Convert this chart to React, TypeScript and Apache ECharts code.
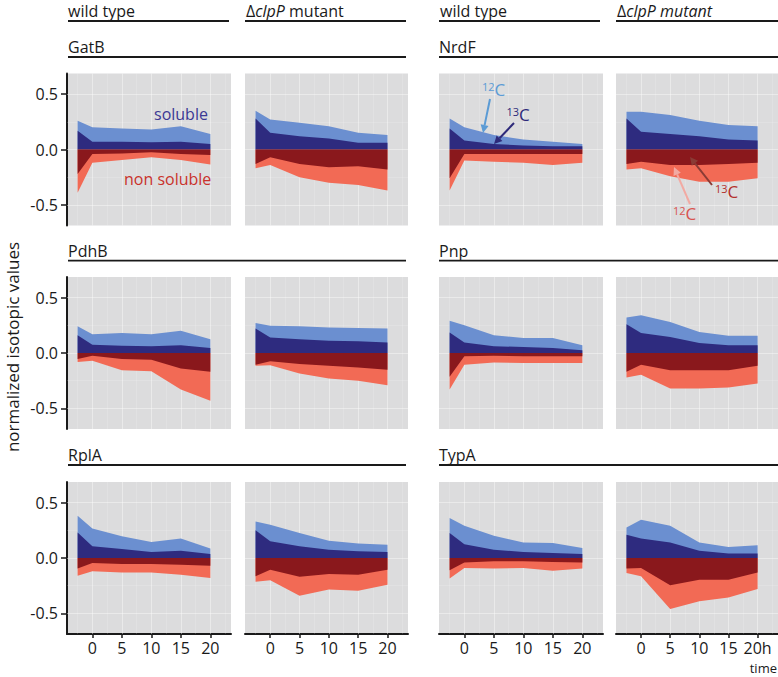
import React, { useEffect, useRef } from "react";
import * as echarts from "echarts";

// ---------- data ----------
const times = [-2.5, 0, 5, 10, 15, 20];
const xTicks = [0, 5, 10, 15, 20];
const yTicks = [-0.5, 0, 0.5];
const xMinor = [-2.5, 2.5, 7.5, 12.5, 17.5, 22.5];
const yMinor = [-0.25, 0.25];
const strainLabels = ["wild type", "ΔclpP mutant"];
const proteins = ["GatB", "NrdF", "PdhB", "Pnp", "RplA", "TypA"];

// boundaries: soluble total (12C+13C), soluble 13C, non-soluble 13C, non-soluble total
const gatbWtSolTotal = [0.26, 0.2, 0.19, 0.18, 0.21, 0.14];
const gatbWtSol13 = [0.17, 0.07, 0.07, 0.065, 0.07, 0.05];
const gatbWtIns13 = [-0.22, -0.04, -0.035, -0.025, -0.04, -0.05];
const gatbWtInsTotal = [-0.39, -0.12, -0.095, -0.07, -0.095, -0.135];

const gatbMuSolTotal = [0.35, 0.27, 0.24, 0.21, 0.15, 0.13];
const gatbMuSol13 = [0.28, 0.15, 0.12, 0.1, 0.06, 0.06];
const gatbMuIns13 = [-0.13, -0.07, -0.13, -0.16, -0.15, -0.18];
const gatbMuInsTotal = [-0.17, -0.14, -0.25, -0.3, -0.32, -0.37];

const nrdfWtSolTotal = [0.28, 0.2, 0.13, 0.09, 0.07, 0.05];
const nrdfWtSol13 = [0.19, 0.08, 0.05, 0.035, 0.03, 0.03];
const nrdfWtIns13 = [-0.26, -0.04, -0.04, -0.04, -0.04, -0.04];
const nrdfWtInsTotal = [-0.37, -0.1, -0.11, -0.12, -0.14, -0.12];

const nrdfMuSolTotal = [0.34, 0.34, 0.31, 0.26, 0.22, 0.21];
const nrdfMuSol13 = [0.28, 0.16, 0.14, 0.12, 0.09, 0.08];
const nrdfMuIns13 = [-0.13, -0.11, -0.14, -0.14, -0.13, -0.12];
const nrdfMuInsTotal = [-0.18, -0.17, -0.24, -0.29, -0.29, -0.26];

const pdhbWtSolTotal = [0.24, 0.17, 0.18, 0.17, 0.2, 0.125];
const pdhbWtSol13 = [0.16, 0.075, 0.065, 0.06, 0.07, 0.045];
const pdhbWtIns13 = [-0.055, -0.025, -0.055, -0.06, -0.14, -0.17];
const pdhbWtInsTotal = [-0.08, -0.07, -0.155, -0.165, -0.33, -0.43];

const pdhbMuSolTotal = [0.27, 0.245, 0.24, 0.23, 0.225, 0.22];
const pdhbMuSol13 = [0.22, 0.14, 0.125, 0.11, 0.105, 0.095];
const pdhbMuIns13 = [-0.105, -0.075, -0.1, -0.115, -0.13, -0.15];
const pdhbMuInsTotal = [-0.115, -0.11, -0.185, -0.23, -0.25, -0.29];

const pnpWtSolTotal = [0.29, 0.25, 0.16, 0.135, 0.135, 0.07];
const pnpWtSol13 = [0.185, 0.095, 0.06, 0.055, 0.045, 0.025];
const pnpWtIns13 = [-0.215, -0.03, -0.025, -0.03, -0.03, -0.03];
const pnpWtInsTotal = [-0.33, -0.105, -0.085, -0.09, -0.09, -0.09];

const pnpMuSolTotal = [0.32, 0.34, 0.28, 0.19, 0.155, 0.155];
const pnpMuSol13 = [0.26, 0.18, 0.145, 0.09, 0.07, 0.07];
const pnpMuIns13 = [-0.17, -0.105, -0.155, -0.155, -0.155, -0.115];
const pnpMuInsTotal = [-0.22, -0.195, -0.32, -0.32, -0.31, -0.275];

const rplaWtSolTotal = [0.38, 0.265, 0.195, 0.145, 0.175, 0.085];
const rplaWtSol13 = [0.23, 0.105, 0.08, 0.055, 0.065, 0.035];
const rplaWtIns13 = [-0.095, -0.045, -0.055, -0.055, -0.06, -0.07];
const rplaWtInsTotal = [-0.16, -0.12, -0.13, -0.13, -0.15, -0.18];

const rplaMuSolTotal = [0.33, 0.3, 0.225, 0.155, 0.13, 0.12];
const rplaMuSol13 = [0.25, 0.15, 0.105, 0.075, 0.06, 0.055];
const rplaMuIns13 = [-0.165, -0.105, -0.17, -0.145, -0.15, -0.105];
const rplaMuInsTotal = [-0.215, -0.2, -0.34, -0.285, -0.295, -0.24];

const typaWtSolTotal = [0.36, 0.29, 0.2, 0.14, 0.135, 0.09];
const typaWtSol13 = [0.225, 0.125, 0.075, 0.055, 0.045, 0.035];
const typaWtIns13 = [-0.11, -0.04, -0.03, -0.03, -0.035, -0.04];
const typaWtInsTotal = [-0.185, -0.09, -0.095, -0.09, -0.115, -0.095];

const typaMuSolTotal = [0.275, 0.345, 0.29, 0.14, 0.1, 0.115];
const typaMuSol13 = [0.21, 0.175, 0.14, 0.065, 0.04, 0.04];
const typaMuIns13 = [-0.095, -0.09, -0.245, -0.195, -0.195, -0.13];
const typaMuInsTotal = [-0.135, -0.165, -0.46, -0.39, -0.355, -0.28];

// per panel, in drawing order: outer soluble, inner soluble, outer non-soluble, inner non-soluble
const panelData = [
  [gatbWtSolTotal, gatbWtSol13, gatbWtInsTotal, gatbWtIns13],
  [gatbMuSolTotal, gatbMuSol13, gatbMuInsTotal, gatbMuIns13],
  [nrdfWtSolTotal, nrdfWtSol13, nrdfWtInsTotal, nrdfWtIns13],
  [nrdfMuSolTotal, nrdfMuSol13, nrdfMuInsTotal, nrdfMuIns13],
  [pdhbWtSolTotal, pdhbWtSol13, pdhbWtInsTotal, pdhbWtIns13],
  [pdhbMuSolTotal, pdhbMuSol13, pdhbMuInsTotal, pdhbMuIns13],
  [pnpWtSolTotal, pnpWtSol13, pnpWtInsTotal, pnpWtIns13],
  [pnpMuSolTotal, pnpMuSol13, pnpMuInsTotal, pnpMuIns13],
  [rplaWtSolTotal, rplaWtSol13, rplaWtInsTotal, rplaWtIns13],
  [rplaMuSolTotal, rplaMuSol13, rplaMuInsTotal, rplaMuIns13],
  [typaWtSolTotal, typaWtSol13, typaWtInsTotal, typaWtIns13],
  [typaMuSolTotal, typaMuSol13, typaMuInsTotal, typaMuIns13],
];

// ---------- styling / layout ----------
const FONT = '"Open Sans", "Noto Sans", sans-serif';
const C_LB = "#6b8fd0";
const C_DB = "#2e2b7f";
const C_DR = "#8a181c";
const C_LR = "#f26a55";
const BG = "#dcdcdd";
const INK = "#1a1a1a";
const layerColors = [C_LB, C_DB, C_LR, C_DR];
const layerZ = [2, 3, 2, 3];

const colLeft = [67, 245, 439, 616];
const colWidth = [164, 163, 164, 162];
const rowTop = [73.5, 277, 482];
const rowHeight = 152;
const X_MIN = -4.3;
const X_MAX = 23.5;
const Y_MIN = -0.685;
const Y_MAX = 0.685;

function txt(text: string, x: number, y: number, size: number, fill: string, align = "left", extra: any = {}) {
  return {
    type: "text",
    x,
    y,
    silent: true,
    z: 100,
    style: {
      text,
      fill,
      font: `${size}px ${FONT}`,
      fontSize: size,
      fontFamily: FONT,
      lineHeight: size,
      align,
      textAlign: align,
      verticalAlign: "middle",
      textVerticalAlign: "middle",
      ...extra,
    },
  };
}

function isotope(mass: string, x: number, y: number, fill: string) {
  return {
    type: "text",
    x,
    y,
    silent: true,
    z: 100,
    style: {
      text: `{s|${mass}}{c|C}`,
      align: "left",
      textAlign: "left",
      verticalAlign: "middle",
      textVerticalAlign: "middle",
      rich: {
        s: { fontSize: 11, fontFamily: FONT, fill, verticalAlign: "top" },
        c: { fontSize: 17, fontFamily: FONT, fill, verticalAlign: "bottom" },
      },
    },
  };
}

function hline(x1: number, x2: number, y: number) {
  return {
    type: "line",
    silent: true,
    z: 100,
    shape: { x1, y1: y, x2, y2: y },
    style: { stroke: INK, lineWidth: 1.8 },
  };
}

function arrow(x1: number, y1: number, x2: number, y2: number, color: string) {
  const ang = Math.atan2(y2 - y1, x2 - x1);
  const L = 8;
  const W = 4;
  const bx = x2 - L * Math.cos(ang);
  const by = y2 - L * Math.sin(ang);
  const nx = -Math.sin(ang);
  const ny = Math.cos(ang);
  return [
    {
      type: "line",
      silent: true,
      z: 100,
      shape: { x1, y1, x2: bx, y2: by },
      style: { stroke: color, lineWidth: 2 },
    },
    {
      type: "polygon",
      silent: true,
      z: 100,
      shape: {
        points: [
          [x2, y2],
          [bx + W * nx, by + W * ny],
          [bx - W * nx, by - W * ny],
        ],
      },
      style: { fill: color },
    },
  ];
}

function richMutant(italicAll: boolean) {
  return {
    text: "{n|Δ}{i|clpP}{m| mutant}",
    rich: {
      n: { fontSize: 16, lineHeight: 16, fontFamily: FONT, fill: INK },
      i: { fontSize: 16, lineHeight: 16, fontFamily: FONT, fontStyle: "italic", fill: INK },
      m: {
        fontSize: 16,
        lineHeight: 16,
        fontFamily: FONT,
        fontStyle: italicAll ? "italic" : "normal",
        fill: INK,
      },
    },
  };
}

function buildOption() {
  const grids: any[] = [];
  const xAxes: any[] = [];
  const yAxes: any[] = [];
  const series: any[] = [];

  for (let p = 0; p < 12; p++) {
    const pairRow = Math.floor(p / 4);
    const col = p % 4;
    grids.push({
      left: colLeft[col],
      top: rowTop[pairRow],
      width: colWidth[col],
      height: rowHeight,
      show: true,
      backgroundColor: BG,
      borderWidth: 0,
      containLabel: false,
      outerBoundsMode: "none",
    });
    const bottom = pairRow === 2;
    const leftAxis = col === 0;
    xAxes.push({
      gridIndex: p,
      type: "value",
      min: X_MIN,
      max: X_MAX,
      axisLine: { show: bottom, onZero: false, lineStyle: { color: INK, width: 2 } },
      axisTick: {
        show: bottom,
        customValues: xTicks,
        length: 4,
        lineStyle: { color: INK, width: 1.5 },
      },
      axisLabel: {
        show: bottom,
        customValues: xTicks,
        margin: 6,
        fontSize: 16,
        lineHeight: 16,
        fontFamily: FONT,
        color: INK,
        formatter: (v: number) => (col === 3 && v === 20 ? "20h" : String(v)),
      },
      splitLine: { show: false },
    });
    yAxes.push({
      gridIndex: p,
      type: "value",
      min: Y_MIN,
      max: Y_MAX,
      axisLine: { show: leftAxis, onZero: false, lineStyle: { color: INK, width: 2 } },
      axisTick: {
        show: leftAxis,
        customValues: yTicks,
        length: 6,
        lineStyle: { color: INK, width: 1.5 },
      },
      axisLabel: {
        show: leftAxis,
        customValues: yTicks,
        margin: 9,
        fontSize: 16,
        lineHeight: 16,
        fontFamily: FONT,
        color: INK,
        formatter: (v: number) => v.toFixed(1),
      },
      splitLine: { show: false },
    });

    const major = { color: "#ffffff", width: 1, opacity: 0.4, type: "solid" };
    const minor = { color: "#ffffff", width: 0.6, opacity: 0.25, type: "solid" };
    series.push({
      type: "line",
      xAxisIndex: p,
      yAxisIndex: p,
      data: [],
      silent: true,
      z: 1,
      markLine: {
        silent: true,
        z: 1,
        symbol: ["none", "none"],
        label: { show: false },
        animation: false,
        data: [
          ...xTicks.map((v) => ({ xAxis: v, lineStyle: major })),
          ...xMinor.map((v) => ({ xAxis: v, lineStyle: minor })),
          ...yTicks.map((v) => ({ yAxis: v, lineStyle: major })),
          ...yMinor.map((v) => ({ yAxis: v, lineStyle: minor })),
        ],
      },
    });

    panelData[p].forEach((arr, k) => {
      series.push({
        type: "line",
        xAxisIndex: p,
        yAxisIndex: p,
        data: times.map((t, j) => [t, arr[j]]),
        symbol: "none",
        silent: true,
        z: layerZ[k] + 5,
        lineStyle: { width: 0, opacity: 0 },
        areaStyle: { color: layerColors[k], opacity: 1 },
      });
    });
  }

  const graphic: any[] = [];
  // column headers
  const headerY = 11.2;
  for (let c = 0; c < 4; c++) {
    const x = colLeft[c] + 1;
    if (c % 2 === 0) {
      graphic.push(txt(strainLabels[0], x, headerY, 16, INK));
    } else {
      const el: any = txt("", x, headerY, 16, INK);
      Object.assign(el.style, richMutant(c === 3));
      graphic.push(el);
    }
  }
  const headLineY = 21;
  graphic.push(hline(68, 229, headLineY));
  graphic.push(hline(245, 406, headLineY));
  graphic.push(hline(439, 600, headLineY));
  graphic.push(hline(616, 778, headLineY));

  // protein labels
  const labelY = [46.5, 251, 455];
  const lineY = [57, 260.7, 465];
  for (let r = 0; r < 3; r++) {
    graphic.push(txt(proteins[r * 2], 68, labelY[r], 16, INK));
    graphic.push(txt(proteins[r * 2 + 1], 439, labelY[r], 16, INK));
    graphic.push(hline(68, 406, lineY[r]));
    graphic.push(hline(439, 778, lineY[r]));
  }

  // y axis title
  graphic.push({
    ...txt("normalized isotopic values", 12.5, 347, 17, INK, "center"),
    rotation: Math.PI / 2,
  });
  // time label
  graphic.push(txt("time", 777, 667.5, 13, INK, "right"));

  // annotations in GatB wild type
  graphic.push(txt("soluble", 154, 114, 16, "#3b3894"));
  graphic.push(txt("non soluble", 124, 179, 16, "#c9322b"));

  // NrdF wild type isotope labels
  graphic.push(isotope("12", 482, 89, "#5b9bd5"));
  graphic.push(isotope("13", 506.5, 114, "#2e2a7a"));
  graphic.push(...arrow(490, 99, 483, 133, "#5b9bd5"));
  graphic.push(...arrow(514, 123, 494, 144, "#2e2a7a"));

  // NrdF mutant isotope labels
  graphic.push(isotope("13", 715, 191.5, "#b3302c"));
  graphic.push(isotope("12", 673, 213, "#d9534f"));
  graphic.push(...arrow(712, 185, 690, 157, "#8a3b35"));
  graphic.push(...arrow(690, 204, 674, 167, "#f2aaa3"));

  return {
    animation: false,
    textStyle: { fontFamily: FONT },
    grid: grids,
    xAxis: xAxes,
    yAxis: yAxes,
    series,
    graphic: { elements: graphic },
  };
}

export default function App() {
  const ref = useRef<HTMLDivElement>(null);
  useEffect(() => {
    document.body.style.margin = "0";
    if (!ref.current) return;
    const chart = echarts.init(ref.current, undefined, { renderer: "svg" });
    chart.setOption(buildOption() as any);
    return () => chart.dispose();
  }, []);
  return <div ref={ref} style={{ width: 778, height: 677, background: "#ffffff" }} />;
}
